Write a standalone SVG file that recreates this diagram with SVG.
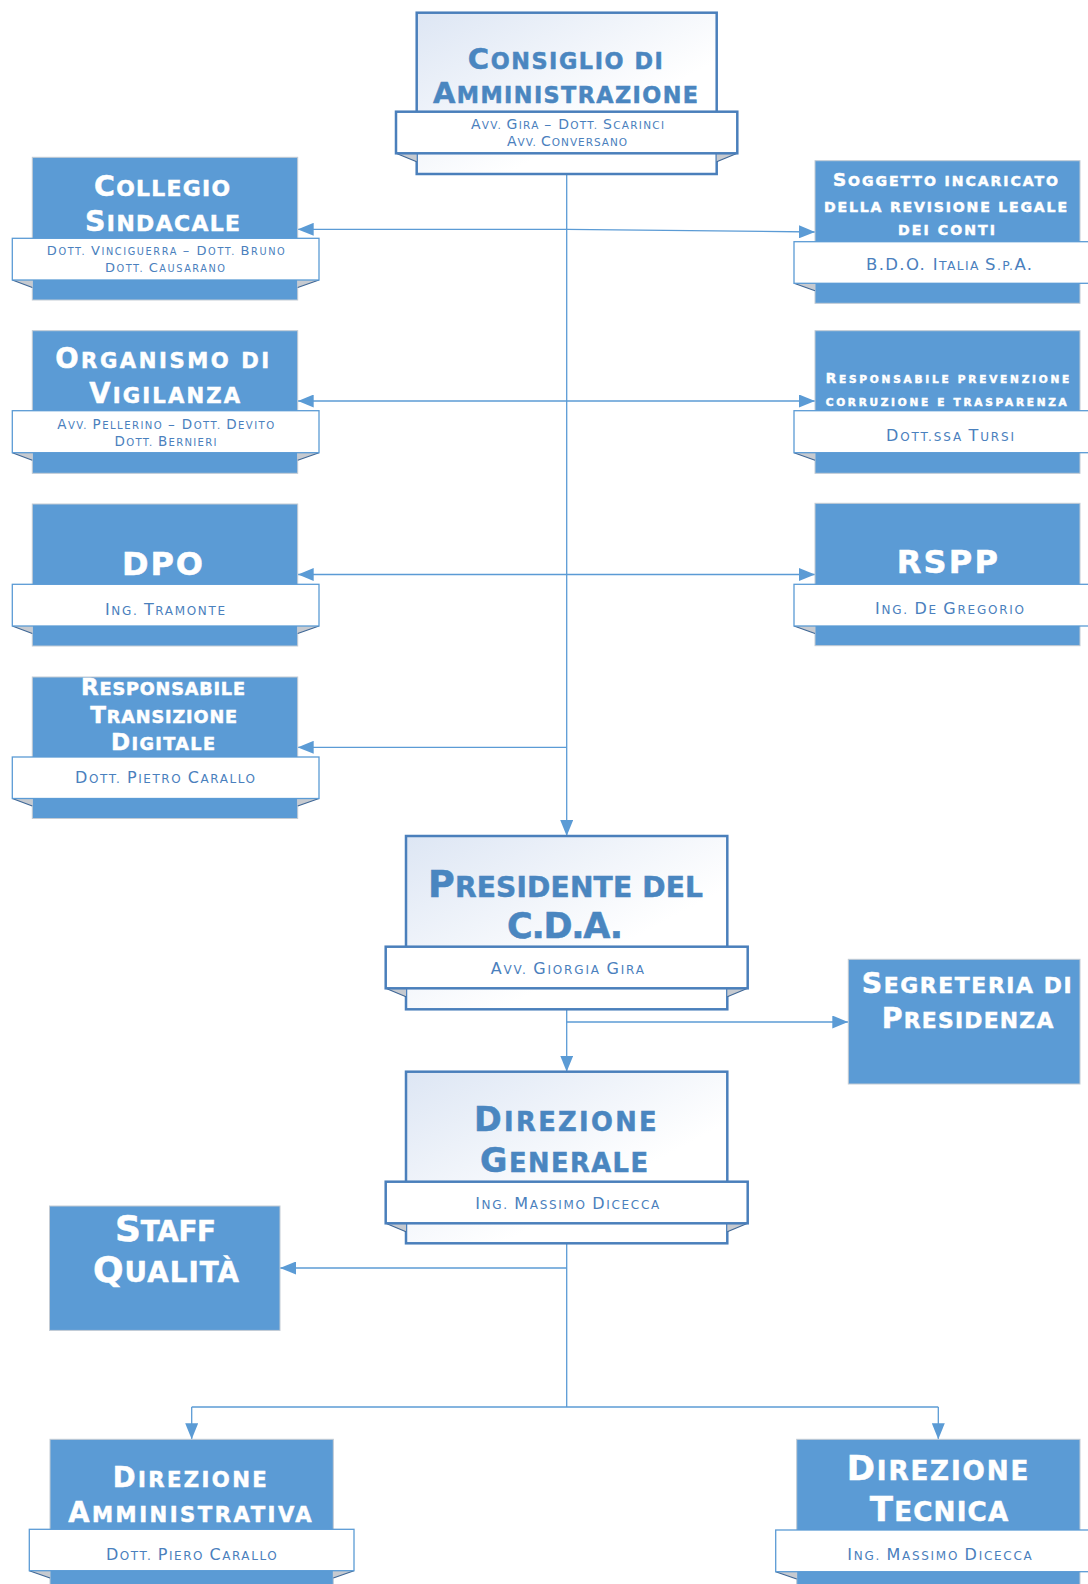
<svg xmlns="http://www.w3.org/2000/svg" width="1088" height="1584" viewBox="0 0 1088 1584">
  <style>
    .ttl { font-family: "DejaVu Sans", Verdana, sans-serif; font-weight: bold; text-anchor: middle; }
    .sc { font-size: 77%; }
    .ss { font-size: 75%; }
    .sub { font-family: "DejaVu Sans", Verdana, sans-serif; text-anchor: middle; fill: #4a80bd; }
    .onblue { fill: #ffffff; stroke: #ffffff; stroke-width: 0.5; }
    .onwhite { fill: #4a86c0; stroke: #4a86c0; stroke-width: 0.5; }
    .bluebox { fill: #5b9bd5; stroke: #c3cbd4; stroke-width: 1; }
    .whitebox { fill: url(#paleGrad); stroke: #4a7fbb; stroke-width: 2.5; }
    .band { fill: #ffffff; stroke: #5b9bd5; stroke-width: 1.3; }
    .bandStrong { fill: #ffffff; stroke: #4a7fbb; stroke-width: 2.5; }
    .fold { fill: #c6cad0; }
    .foldEdge { stroke: #3f6796; stroke-width: 1.2; fill: none; }
    .conn { stroke: #5b9bd5; stroke-width: 1.3; fill: none; marker-end: url(#arrow); }
    .plain { stroke: #5b9bd5; stroke-width: 1.3; fill: none; }
  </style>
  <defs>
    <linearGradient id="paleGrad" x1="0" y1="0" x2="1" y2="1">
      <stop offset="0" stop-color="#dde6f4"/>
      <stop offset="0.65" stop-color="#ffffff"/>
    </linearGradient>
    <marker id="arrow" viewBox="0 0 16 13" refX="16" refY="6.5" markerWidth="16" markerHeight="13" markerUnits="userSpaceOnUse" orient="auto">
      <path d="M0,0 L16,6.5 L0,13 z" fill="#5b9bd5"/>
    </marker>
  </defs>

  <!-- connectors -->
  <g id="connectors">
    <path class="conn" d="M566.7,174 V836"/>
    <path class="conn" d="M566.7,229.3 H297.7"/>
    <path class="conn" d="M566.7,229.3 L815,232"/>
    <path class="conn" d="M566.7,401 H297.7"/>
    <path class="conn" d="M566.7,401 H815"/>
    <path class="conn" d="M566.7,574.5 H297.7"/>
    <path class="conn" d="M566.7,574.5 H815"/>
    <path class="conn" d="M566.7,747.3 H297.7"/>
    <path class="conn" d="M566.7,1009.3 V1071.7"/>
    <path class="conn" d="M566.7,1022 H848.3"/>
    <path class="plain" d="M566.7,1243.3 V1407"/>
    <path class="conn" d="M566.7,1268 H280"/>
    <path class="plain" d="M191.7,1407 H938.3"/>
    <path class="conn" d="M191.7,1407 V1439.3"/>
    <path class="conn" d="M938.3,1407 V1439.3"/>
  </g>

  <!-- Consiglio di Amministrazione -->
  <g id="consiglio">
    <rect class="whitebox" x="416.7" y="12.7" width="300" height="161.3"/>
    <polygon class="fold" points="396,153.3 416.7,153.3 416.7,161.7"/>
    <polygon class="fold" points="737.3,153.3 716.7,153.3 716.7,161.7"/>
    <path class="foldEdge" d="M396,153.3 L416.7,161.7 M737.3,153.3 L716.7,161.7"/>
    <rect class="bandStrong" x="396" y="111.7" width="341.3" height="41.6"/>
    <text class="ttl onwhite" x="565.3" y="69" font-size="29" textLength="195" lengthAdjust="spacing">C<tspan class="sc">ONSIGLIO DI</tspan></text>
    <text class="ttl onwhite" x="565.5" y="103" font-size="29" textLength="265" lengthAdjust="spacing">A<tspan class="sc">MMINISTRAZIONE</tspan></text>
    <text class="sub" x="567.5" y="129" font-size="14" textLength="193" lengthAdjust="spacing">A<tspan class="ss">VV. </tspan>G<tspan class="ss">IRA </tspan>– D<tspan class="ss">OTT. </tspan>S<tspan class="ss">CARINCI</tspan></text>
    <text class="sub" x="567" y="146" font-size="14" textLength="120" lengthAdjust="spacing">A<tspan class="ss">VV. </tspan>C<tspan class="ss">ONVERSANO</tspan></text>
  </g>

  <!-- Collegio Sindacale -->
  <g id="collegio">
    <rect class="bluebox" x="32.3" y="157.3" width="265.4" height="142.7"/>
    <polygon class="fold" points="12.3,280 32.3,280 32.3,287.5"/>
    <polygon class="fold" points="319,280 297.7,280 297.7,287.5"/>
    <path class="foldEdge" d="M12.3,280 L32.3,287.5 M319,280 L297.7,287.5"/>
    <rect class="band" x="12.3" y="238.3" width="306.7" height="41.7"/>
    <text class="ttl onblue" x="162" y="195.7" font-size="28.4" textLength="136" lengthAdjust="spacing">C<tspan class="sc">OLLEGIO</tspan></text>
    <text class="ttl onblue" x="162.5" y="231" font-size="28.4" textLength="155" lengthAdjust="spacing">S<tspan class="sc">INDACALE</tspan></text>
    <text class="sub" x="165.8" y="255" font-size="13" textLength="238" lengthAdjust="spacing">D<tspan class="ss">OTT. </tspan>V<tspan class="ss">INCIGUERRA </tspan>– D<tspan class="ss">OTT. </tspan>B<tspan class="ss">RUNO</tspan></text>
    <text class="sub" x="165" y="272" font-size="13" textLength="120" lengthAdjust="spacing">D<tspan class="ss">OTT. </tspan>C<tspan class="ss">AUSARANO</tspan></text>
  </g>

  <!-- Organismo di Vigilanza -->
  <g id="organismo">
    <rect class="bluebox" x="32.3" y="330.7" width="265.4" height="142.6"/>
    <polygon class="fold" points="12.3,452.7 32.3,452.7 32.3,460.2"/>
    <polygon class="fold" points="319,452.7 297.7,452.7 297.7,460.2"/>
    <path class="foldEdge" d="M12.3,452.7 L32.3,460.2 M319,452.7 L297.7,460.2"/>
    <rect class="band" x="12.3" y="410.7" width="306.7" height="42"/>
    <text class="ttl onblue" x="162.2" y="368.3" font-size="27.5" textLength="214" lengthAdjust="spacing">O<tspan class="sc">RGANISMO DI</tspan></text>
    <text class="ttl onblue" x="164.7" y="403.3" font-size="27.5" textLength="151" lengthAdjust="spacing">V<tspan class="sc">IGILANZA</tspan></text>
    <text class="sub" x="165.7" y="429.3" font-size="13.5" textLength="217" lengthAdjust="spacing">A<tspan class="ss">VV. </tspan>P<tspan class="ss">ELLERINO </tspan>– D<tspan class="ss">OTT. </tspan>D<tspan class="ss">EVITO</tspan></text>
    <text class="sub" x="165.5" y="446" font-size="13.5" textLength="102" lengthAdjust="spacing">D<tspan class="ss">OTT. </tspan>B<tspan class="ss">ERNIERI</tspan></text>
  </g>

  <!-- DPO -->
  <g id="dpo">
    <rect class="bluebox" x="32.3" y="504" width="265.4" height="142"/>
    <polygon class="fold" points="12.3,626 32.3,626 32.3,633.5"/>
    <polygon class="fold" points="319,626 297.7,626 297.7,633.5"/>
    <path class="foldEdge" d="M12.3,626 L32.3,633.5 M319,626 L297.7,633.5"/>
    <rect class="band" x="12.3" y="584.3" width="306.7" height="41.7"/>
    <text class="ttl onblue" x="162.5" y="575" font-size="32" textLength="81" lengthAdjust="spacing">DPO</text>
    <text class="sub" x="165" y="615" font-size="16" textLength="120" lengthAdjust="spacing">I<tspan class="ss">NG. </tspan>T<tspan class="ss">RAMONTE</tspan></text>
  </g>

  <!-- Responsabile Transizione Digitale -->
  <g id="rtd">
    <rect class="bluebox" x="32.3" y="677" width="265.4" height="141.5"/>
    <polygon class="fold" points="12.3,798.5 32.3,798.5 32.3,806"/>
    <polygon class="fold" points="319,798.5 297.7,798.5 297.7,806"/>
    <path class="foldEdge" d="M12.3,798.5 L32.3,806 M319,798.5 L297.7,806"/>
    <rect class="band" x="12.3" y="757" width="306.7" height="41.5"/>
    <text class="ttl onblue" x="163" y="695" font-size="23" textLength="164" lengthAdjust="spacing">R<tspan class="sc">ESPONSABILE</tspan></text>
    <text class="ttl onblue" x="163.7" y="722.7" font-size="23" textLength="147" lengthAdjust="spacing">T<tspan class="sc">RANSIZIONE</tspan></text>
    <text class="ttl onblue" x="163" y="750" font-size="23" textLength="104" lengthAdjust="spacing">D<tspan class="sc">IGITALE</tspan></text>
    <text class="sub" x="165" y="783.3" font-size="16" textLength="180" lengthAdjust="spacing">D<tspan class="ss">OTT. </tspan>P<tspan class="ss">IETRO </tspan>C<tspan class="ss">ARALLO</tspan></text>
  </g>

  <!-- Soggetto incaricato della revisione legale dei conti -->
  <g id="revisione">
    <rect class="bluebox" x="815" y="160.7" width="265" height="142.6"/>
    <polygon class="fold" points="794,283.3 815,283.3 815,290.8"/>
    <path class="foldEdge" d="M794,283.3 L815,290.8"/>
    <rect class="band" x="794" y="241.7" width="307" height="41.6"/>
    <text class="ttl onblue" x="945.5" y="186" font-size="18.3" textLength="225" lengthAdjust="spacing">S<tspan class="sc">OGGETTO INCARICATO</tspan></text>
    <text class="ttl onblue" x="945.5" y="211.7" font-size="18.3" textLength="243" lengthAdjust="spacing"><tspan class="sc">DELLA REVISIONE LEGALE</tspan></text>
    <text class="ttl onblue" x="946.5" y="235" font-size="18.3" textLength="97" lengthAdjust="spacing"><tspan class="sc">DEI CONTI</tspan></text>
    <text class="sub" x="949" y="270" font-size="16.5" textLength="166" lengthAdjust="spacing">B.D.O. I<tspan class="ss">TALIA </tspan>S<tspan class="ss">.P.</tspan>A.</text>
  </g>

  <!-- Responsabile prevenzione corruzione e trasparenza -->
  <g id="anticorruzione">
    <rect class="bluebox" x="815" y="330.7" width="265" height="142.6"/>
    <polygon class="fold" points="794,452.7 815,452.7 815,460.2"/>
    <path class="foldEdge" d="M794,452.7 L815,460.2"/>
    <rect class="band" x="794" y="410.7" width="307" height="42"/>
    <text class="ttl onblue" x="947.5" y="383.3" font-size="13.7" textLength="243.6" lengthAdjust="spacing">R<tspan class="sc">ESPONSABILE PREVENZIONE</tspan></text>
    <text class="ttl onblue" x="946.2" y="406" font-size="13.7" textLength="241" lengthAdjust="spacing"><tspan class="sc">CORRUZIONE E TRASPARENZA</tspan></text>
    <text class="sub" x="950" y="440.7" font-size="16" textLength="128" lengthAdjust="spacing">D<tspan class="ss">OTT.SSA </tspan>T<tspan class="ss">URSI</tspan></text>
  </g>

  <!-- RSPP -->
  <g id="rspp">
    <rect class="bluebox" x="815" y="503.3" width="265" height="142.4"/>
    <polygon class="fold" points="794,626 815,626 815,633.5"/>
    <path class="foldEdge" d="M794,626 L815,633.5"/>
    <rect class="band" x="794" y="584.3" width="307" height="41.7"/>
    <text class="ttl onblue" x="947.3" y="573.3" font-size="32" textLength="101.3" lengthAdjust="spacing">RSPP</text>
    <text class="sub" x="949.5" y="614" font-size="16" textLength="149" lengthAdjust="spacing">I<tspan class="ss">NG. </tspan>D<tspan class="ss">E </tspan>G<tspan class="ss">REGORIO</tspan></text>
  </g>

  <!-- Presidente del C.D.A. -->
  <g id="presidente">
    <rect class="whitebox" x="406" y="836" width="321.3" height="173.3"/>
    <polygon class="fold" points="385.7,988.3 406,988.3 406,996.7"/>
    <polygon class="fold" points="747.7,988.3 727.3,988.3 727.3,996.7"/>
    <path class="foldEdge" d="M385.7,988.3 L406,996.7 M747.7,988.3 L727.3,996.7"/>
    <rect class="bandStrong" x="385.7" y="946.7" width="362" height="41.6"/>
    <text class="ttl onwhite" x="565.5" y="896.7" font-size="36.5" textLength="275" lengthAdjust="spacing">P<tspan class="sc">RESIDENTE DEL</tspan></text>
    <text class="ttl onwhite" x="565" y="938.3" font-size="35" textLength="116" lengthAdjust="spacing">C.D.A.</text>
    <text class="sub" x="567.3" y="974.3" font-size="16" textLength="153.3" lengthAdjust="spacing">A<tspan class="ss">VV. </tspan>G<tspan class="ss">IORGIA </tspan>G<tspan class="ss">IRA</tspan></text>
  </g>

  <!-- Segreteria di Presidenza -->
  <g id="segreteria">
    <rect class="bluebox" x="848.3" y="959.3" width="231.7" height="124.7"/>
    <text class="ttl onblue" x="966.7" y="993.3" font-size="28.4" textLength="210" lengthAdjust="spacing">S<tspan class="sc">EGRETERIA DI</tspan></text>
    <text class="ttl onblue" x="967.5" y="1028.3" font-size="28.4" textLength="171.6" lengthAdjust="spacing">P<tspan class="sc">RESIDENZA</tspan></text>
  </g>

  <!-- Direzione Generale -->
  <g id="direzione-generale">
    <rect class="whitebox" x="406" y="1071.7" width="321.3" height="171.6"/>
    <polygon class="fold" points="385.7,1223.3 406,1223.3 406,1231.7"/>
    <polygon class="fold" points="747.7,1223.3 727.3,1223.3 727.3,1231.7"/>
    <path class="foldEdge" d="M385.7,1223.3 L406,1231.7 M747.7,1223.3 L727.3,1231.7"/>
    <rect class="bandStrong" x="385.7" y="1181.7" width="362" height="41.6"/>
    <text class="ttl onwhite" x="565.3" y="1131" font-size="33.4" textLength="182.7" lengthAdjust="spacing">D<tspan class="sc">IREZIONE</tspan></text>
    <text class="ttl onwhite" x="564" y="1172.3" font-size="33.4" textLength="168" lengthAdjust="spacing">G<tspan class="sc">ENERALE</tspan></text>
    <text class="sub" x="567.2" y="1209.3" font-size="16" textLength="184" lengthAdjust="spacing">I<tspan class="ss">NG. </tspan>M<tspan class="ss">ASSIMO </tspan>D<tspan class="ss">ICECCA</tspan></text>
  </g>

  <!-- Staff Qualità -->
  <g id="staff-qualita">
    <rect class="bluebox" x="49.5" y="1206" width="230.5" height="124.4"/>
    <text class="ttl onblue" x="165.5" y="1240.5" font-size="36" textLength="101" lengthAdjust="spacing">S<tspan class="sc">TAFF</tspan></text>
    <text class="ttl onblue" x="166" y="1282" font-size="36" textLength="146" lengthAdjust="spacing">Q<tspan class="sc">UALITÀ</tspan></text>
  </g>

  <!-- Direzione Amministrativa -->
  <g id="direzione-amministrativa">
    <rect class="bluebox" x="50" y="1439.3" width="283.3" height="160"/>
    <polygon class="fold" points="29.3,1570.7 50,1570.7 50,1578"/>
    <polygon class="fold" points="354,1570.7 333.3,1570.7 333.3,1578"/>
    <path class="foldEdge" d="M29.3,1570.7 L50,1578 M354,1570.7 L333.3,1578"/>
    <rect class="band" x="29.3" y="1529.3" width="324.7" height="41.4"/>
    <text class="ttl onblue" x="189.7" y="1486.7" font-size="27.5" textLength="154" lengthAdjust="spacing">D<tspan class="sc">IREZIONE</tspan></text>
    <text class="ttl onblue" x="190" y="1521.7" font-size="27.5" textLength="243.4" lengthAdjust="spacing">A<tspan class="sc">MMINISTRATIVA</tspan></text>
    <text class="sub" x="191.3" y="1560" font-size="16" textLength="170.7" lengthAdjust="spacing">D<tspan class="ss">OTT. </tspan>P<tspan class="ss">IERO </tspan>C<tspan class="ss">ARALLO</tspan></text>
  </g>

  <!-- Direzione Tecnica -->
  <g id="direzione-tecnica">
    <rect class="bluebox" x="796.7" y="1439.3" width="283.3" height="160"/>
    <polygon class="fold" points="775.7,1571.7 796.7,1571.7 796.7,1579"/>
    <path class="foldEdge" d="M775.7,1571.7 L796.7,1579"/>
    <rect class="band" x="775.7" y="1530" width="325" height="41.7"/>
    <text class="ttl onblue" x="937.5" y="1480" font-size="34" textLength="181.6" lengthAdjust="spacing">D<tspan class="sc">IREZIONE</tspan></text>
    <text class="ttl onblue" x="939" y="1520.7" font-size="34" textLength="138.3" lengthAdjust="spacing">T<tspan class="sc">ECNICA</tspan></text>
    <text class="sub" x="939.5" y="1560" font-size="16" textLength="184.4" lengthAdjust="spacing">I<tspan class="ss">NG. </tspan>M<tspan class="ss">ASSIMO </tspan>D<tspan class="ss">ICECCA</tspan></text>
  </g>
</svg>
